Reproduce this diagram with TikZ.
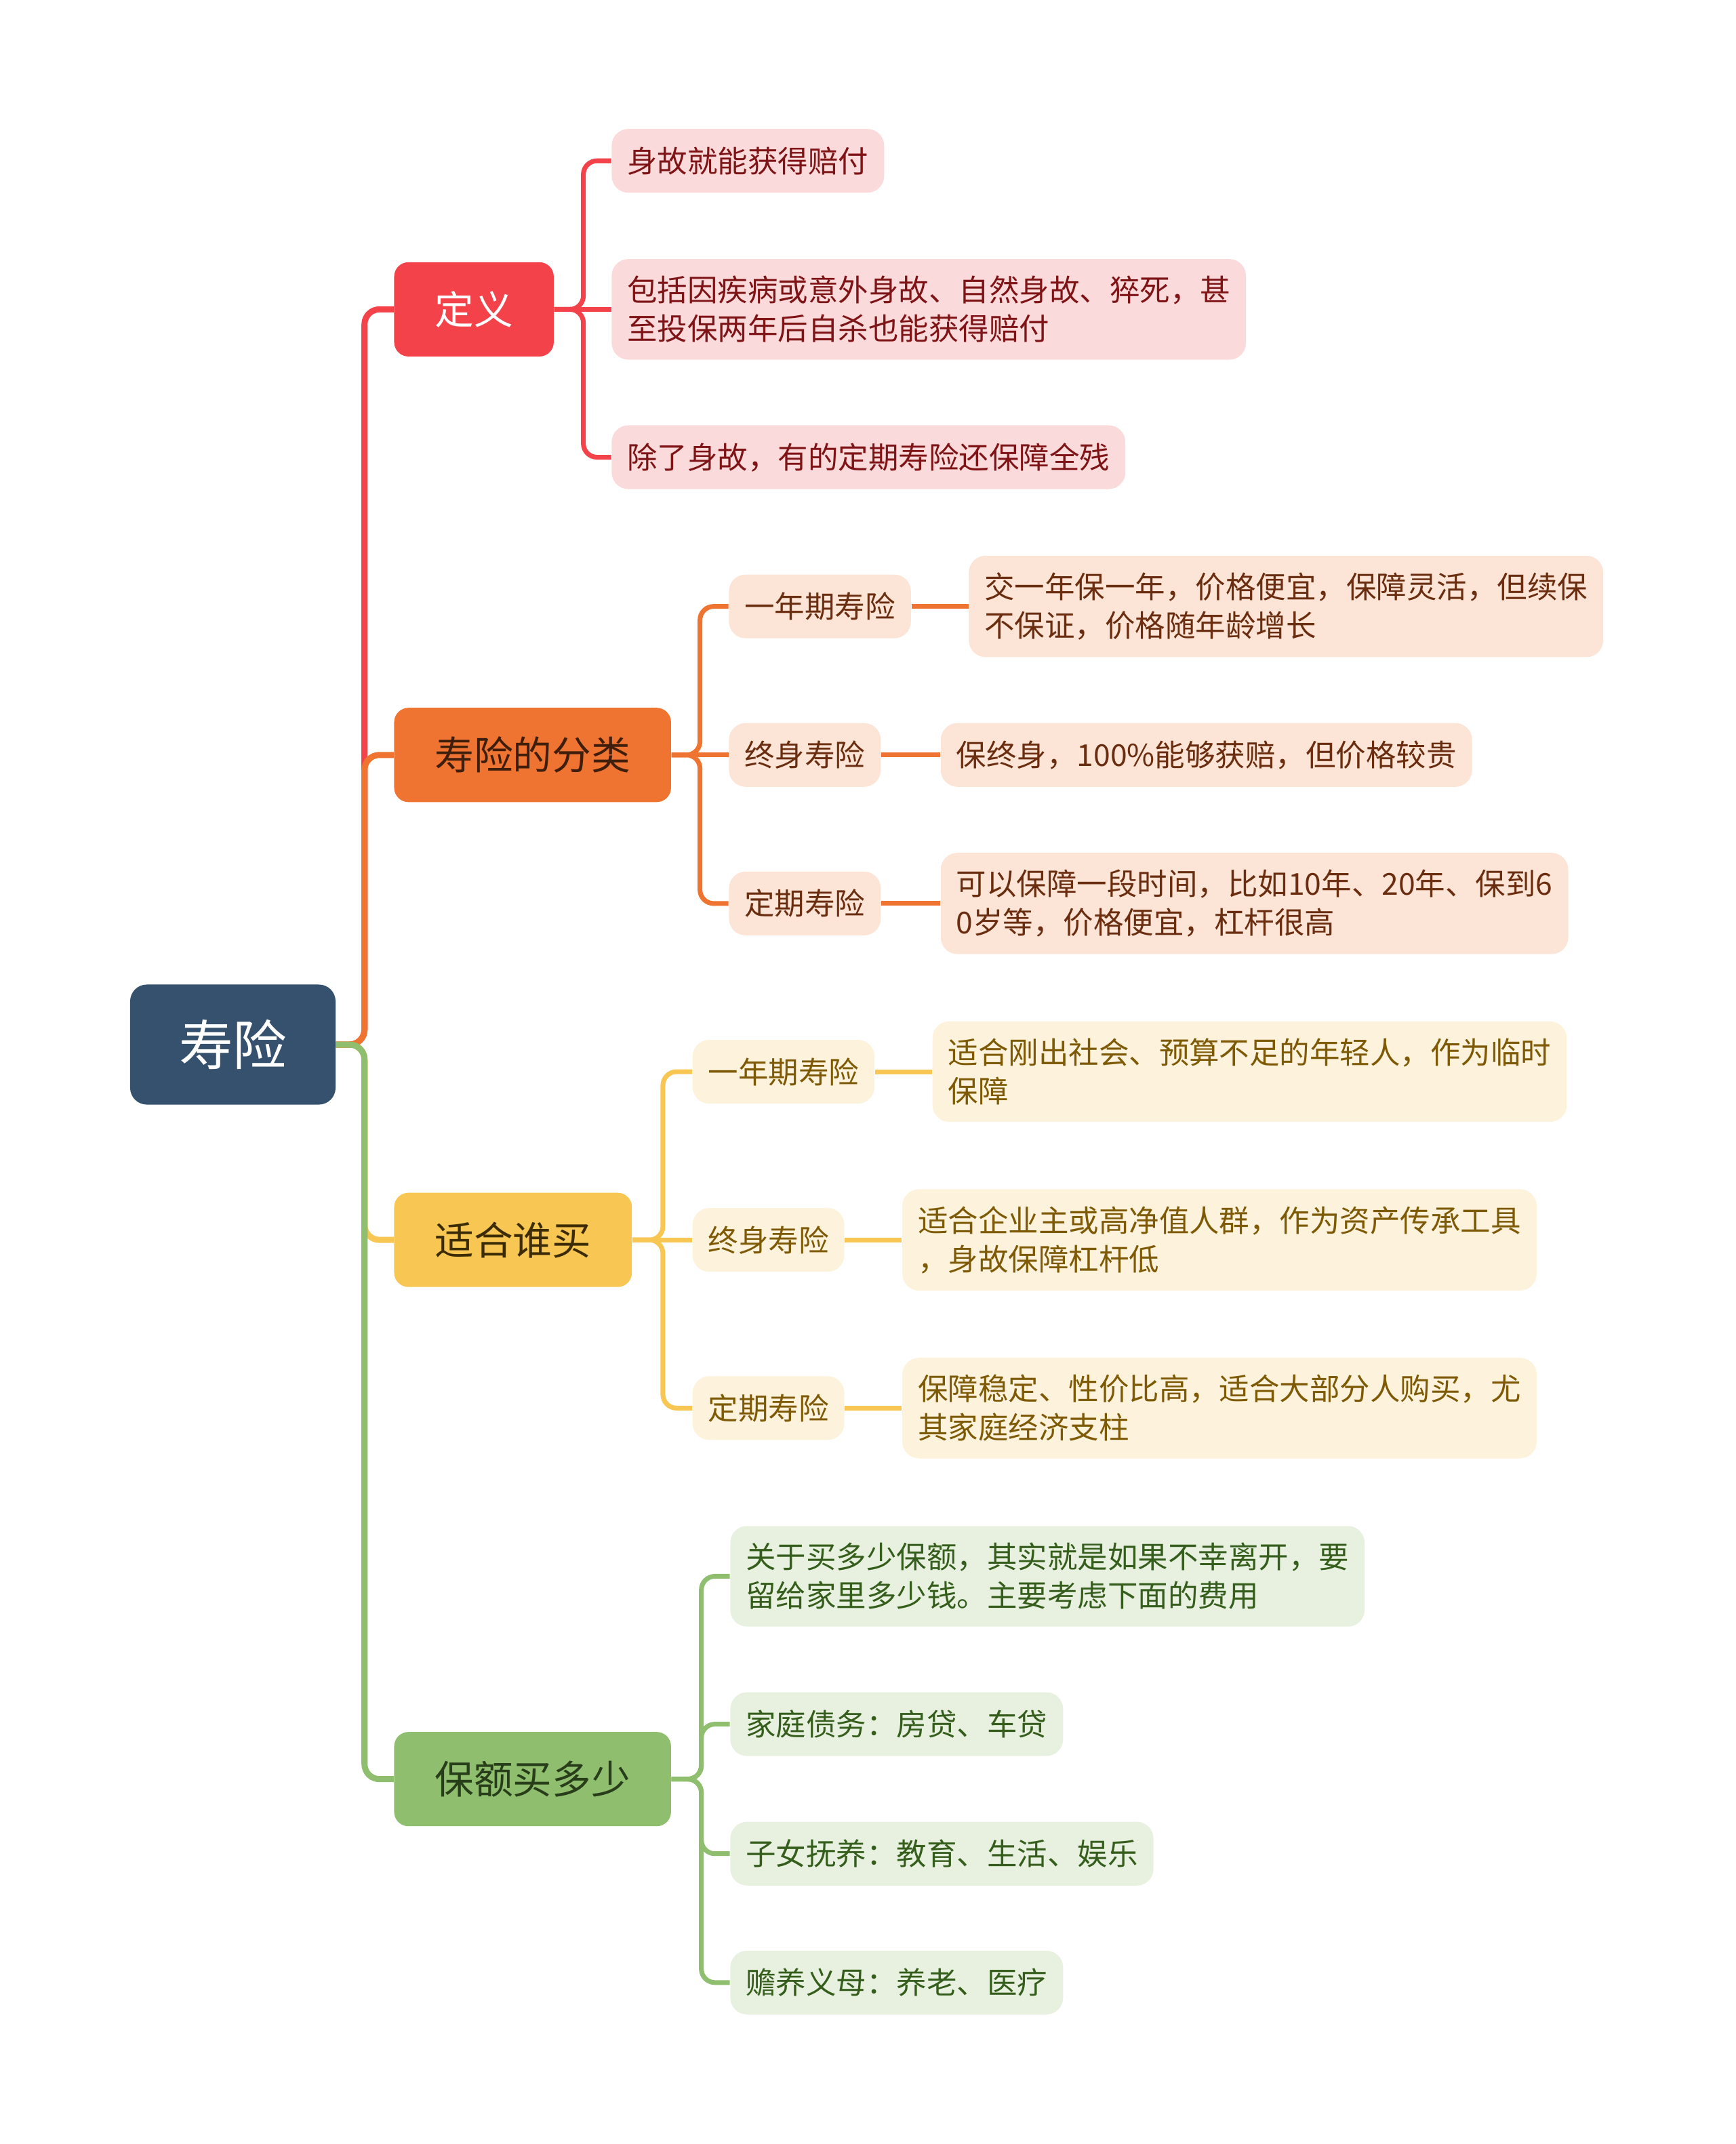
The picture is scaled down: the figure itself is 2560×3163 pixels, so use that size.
\documentclass[tikz,border=0pt]{standalone}
\usepackage{fontspec}
\setmainfont{Noto Sans CJK SC}
\usepackage{tikz}
\usetikzlibrary{positioning}

\definecolor{rootblue}{HTML}{36516E}
\definecolor{redmain}{HTML}{F4424A}
\definecolor{redleaf}{HTML}{FBDADB}
\definecolor{redtext}{HTML}{7F1417}
\definecolor{orangemain}{HTML}{F07431}
\definecolor{orangeleaf}{HTML}{FCE5D7}
\definecolor{orangetext}{HTML}{6B2D0F}
\definecolor{orangedark}{HTML}{3F1E0C}
\definecolor{yellowmain}{HTML}{F8C653}
\definecolor{yellowleaf}{HTML}{FDF3DC}
\definecolor{yellowtext}{HTML}{7F5A06}
\definecolor{yellowdark}{HTML}{3C2C05}
\definecolor{greenmain}{HTML}{8FBE6E}
\definecolor{greenleaf}{HTML}{E8F1E0}
\definecolor{greentext}{HTML}{355E1C}
\definecolor{greendark}{HTML}{283D1A}

\begin{document}
\begin{tikzpicture}[
    x=0.01cm, y=-0.01cm,
    node distance=0.84cm,
    root_node/.style={rectangle, fill=rootblue, text=white, rounded corners=7pt, inner xsep=0.72cm, minimum height=1.77cm, font=\fontsize{22.6}{26}\selectfont},
    branch/.style={rectangle, rounded corners=6pt, inner xsep=0.6cm, minimum height=1.39cm, font=\fontsize{16.4}{20}\selectfont},
    leaf/.style={rectangle, rounded corners=7pt, inner xsep=0.23cm, inner ysep=0.25cm, minimum height=0.94cm, align=left, font=\fontsize{12.65}{16.2}\selectfont},
    trunk/.style={line width=0.09cm, rounded corners=0.22cm},
    twig/.style={line width=0.07cm, rounded corners=0.2cm}
]
    \useasboundingbox (0,0) rectangle (2560,3163);

    % Nodes
    \node[root_node] (root) at (343.5,1541) {寿险};

    \node[branch, fill=redmain, text=white, right=0.85cm of root, yshift=10.84cm] (define) {定义};
    \node[branch, fill=orangemain, text=orangedark, right=0.85cm of root, yshift=4.27cm] (types) {寿险的分类};
    \node[branch, fill=yellowmain, text=yellowdark, right=0.85cm of root, yshift=-2.88cm] (buyer) {适合谁买};
    \node[branch, fill=greenmain, text=greendark, right=0.85cm of root, yshift=-10.83cm] (cover) {保额买多少};

    % definition
    \node[leaf, fill=redleaf, text=redtext, right=of define, yshift=2.19cm] (define_a) {身故就能获得赔付};
    \node[leaf, fill=redleaf, text=redtext, right=of define] (define_b) {包括因疾病或意外身故、自然身故、猝死，甚\\至投保两年后自杀也能获得赔付};
    \node[leaf, fill=redleaf, text=redtext, right=of define, yshift=-2.18cm] (define_c) {除了身故，有的定期寿险还保障全残};

    % kinds
    \node[leaf, fill=orangeleaf, text=orangetext, right=of types, yshift=2.19cm] (types_year) {一年期寿险};
    \node[leaf, fill=orangeleaf, text=orangetext, right=of types] (types_whole) {终身寿险};
    \node[leaf, fill=orangeleaf, text=orangetext, right=of types, yshift=-2.19cm] (types_term) {定期寿险};
    \node[leaf, fill=orangeleaf, text=orangetext, right=of types_year] (types_year_note) {交一年保一年，价格便宜，保障灵活，但续保\\不保证，价格随年龄增长};
    \node[leaf, fill=orangeleaf, text=orangetext, right=0.87cm of types_whole] (types_whole_note) {保终身，100\%能够获赔，但价格较贵};
    \node[leaf, fill=orangeleaf, text=orangetext, right=0.87cm of types_term] (types_term_note) {可以保障一段时间，比如10年、20年、保到6\\0岁等，价格便宜，杠杆很高};

    % who should buy
    \node[leaf, fill=yellowleaf, text=yellowtext, right=0.88cm of buyer, yshift=2.48cm] (buyer_year) {一年期寿险};
    \node[leaf, fill=yellowleaf, text=yellowtext, right=0.88cm of buyer] (buyer_whole) {终身寿险};
    \node[leaf, fill=yellowleaf, text=yellowtext, right=0.88cm of buyer, yshift=-2.48cm] (buyer_term) {定期寿险};
    \node[leaf, fill=yellowleaf, text=yellowtext, right=of buyer_year] (buyer_year_note) {适合刚出社会、预算不足的年轻人，作为临时\\保障};
    \node[leaf, fill=yellowleaf, text=yellowtext, right=of buyer_whole] (buyer_whole_note) {适合企业主或高净值人群，作为资产传承工具\\，身故保障杠杆低};
    \node[leaf, fill=yellowleaf, text=yellowtext, right=of buyer_term] (buyer_term_note) {保障稳定、性价比高，适合大部分人购买，尤\\其家庭经济支柱};

    % amount
    \node[leaf, fill=greenleaf, text=greentext, right=0.86cm of cover, yshift=2.99cm] (cover_a) {关于买多少保额，其实就是如果不幸离开，要\\留给家里多少钱。主要考虑下面的费用};
    \node[leaf, fill=greenleaf, text=greentext, right=0.86cm of cover, yshift=0.81cm] (cover_b) {家庭债务：房贷、车贷};
    \node[leaf, fill=greenleaf, text=greentext, right=0.86cm of cover, yshift=-1.10cm] (cover_c) {子女抚养：教育、生活、娱乐};
    \node[leaf, fill=greenleaf, text=greentext, right=0.86cm of cover, yshift=-3.00cm] (cover_d) {赡养义母：养老、医疗};

    % Lines
    \draw[trunk, redmain] (root.east) -- ++(0.42cm,0) |- (define.west);
    \draw[trunk, yellowmain] (root.east) -- ++(0.42cm,0) |- (buyer.west);
    \draw[trunk, orangemain] (root.east) -- ++(0.42cm,0) |- (types.west);
    \draw[trunk, greenmain] (root.east) -- ++(0.42cm,0) |- (cover.west);

    \draw[twig, redmain] (define.east) -- ++(0.43cm,0) |- (define_a.west);
    \draw[twig, redmain] (define.east) -- (define_b.west);
    \draw[twig, redmain] (define.east) -- ++(0.43cm,0) |- (define_c.west);

    \draw[twig, orangemain] (types.east) -- ++(0.42cm,0) |- (types_year.west);
    \draw[twig, orangemain] (types.east) -- (types_whole.west);
    \draw[twig, orangemain] (types.east) -- ++(0.42cm,0) |- (types_term.west);
    \draw[twig, orangemain] (types_year) -- (types_year_note);
    \draw[twig, orangemain] (types_whole) -- (types_whole_note);
    \draw[twig, orangemain] (types_term) -- (types_term_note);

    \draw[twig, yellowmain] (buyer.east) -- ++(0.45cm,0) |- (buyer_year.west);
    \draw[twig, yellowmain] (buyer.east) -- (buyer_whole.west);
    \draw[twig, yellowmain] (buyer.east) -- ++(0.45cm,0) |- (buyer_term.west);
    \draw[twig, yellowmain] (buyer_year) -- (buyer_year_note);
    \draw[twig, yellowmain] (buyer_whole) -- (buyer_whole_note);
    \draw[twig, yellowmain] (buyer_term) -- (buyer_term_note);

    \draw[twig, greenmain] (cover.east) -- ++(0.44cm,0) |- (cover_a.west);
    \draw[twig, greenmain] (cover.east) -- ++(0.44cm,0) |- (cover_b.west);
    \draw[twig, greenmain] (cover.east) -- ++(0.44cm,0) |- (cover_c.west);
    \draw[twig, greenmain] (cover.east) -- ++(0.44cm,0) |- (cover_d.west);
\end{tikzpicture}
\end{document}
